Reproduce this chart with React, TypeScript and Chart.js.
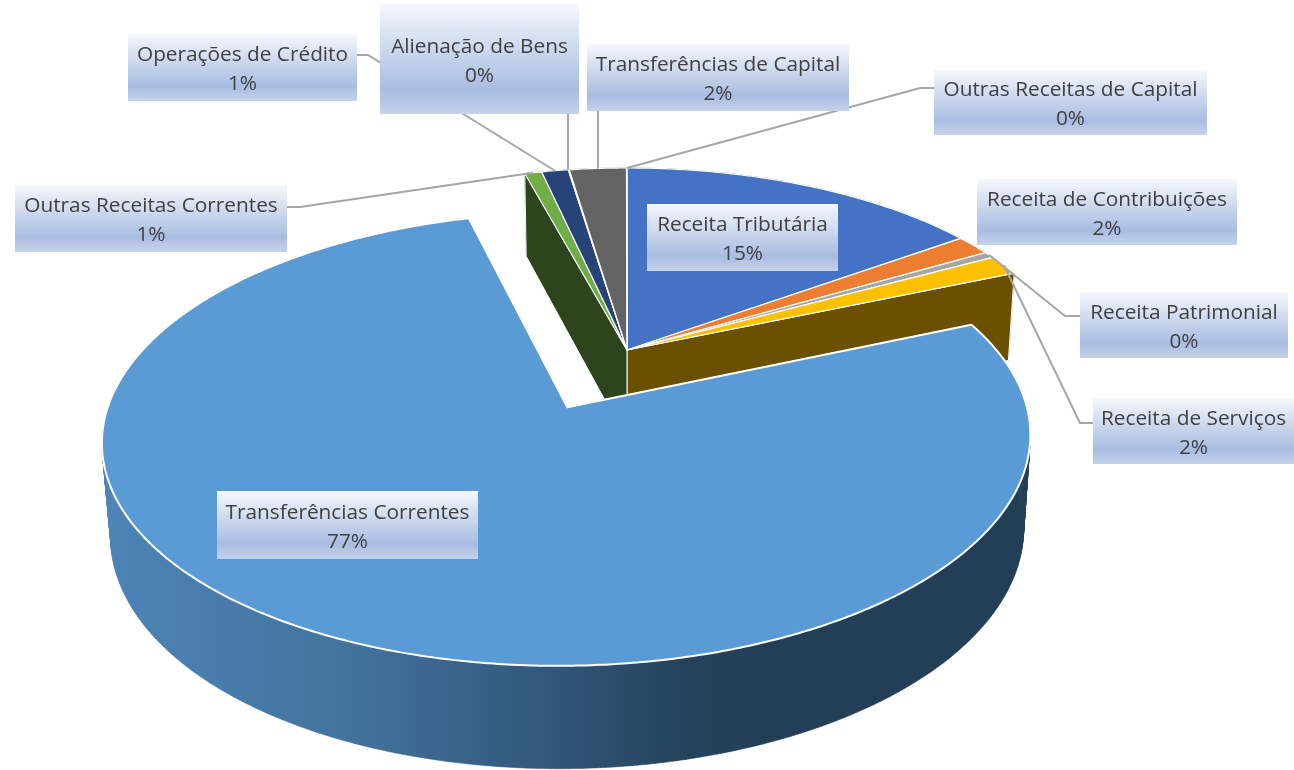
import React, { useEffect, useRef } from "react";
import { Chart, registerables } from "chart.js";

Chart.register(...registerables);

const categories = [
  "Receita Tributária",
  "Receita de Contribuições",
  "Receita Patrimonial",
  "Receita de Serviços",
  "Transferências Correntes",
  "Outras Receitas Correntes",
  "Operações de Crédito",
  "Alienação de Bens",
  "Transferências de Capital",
  "Outras Receitas de Capital",
];
const shares = [15.1, 1.51, 0.48, 1.51, 77.2, 0.7, 1.1, 0.04, 2.34, 0.02];
const explode = [0, 0, 0, 0, 0.297, 0, 0, 0, 0, 0];
const topColors = ["#4472C4", "#ED7D31", "#A5A5A5", "#FFC000", "#5B9BD5", "#70AD47", "#264478", "#9E480E", "#636363", "#997300"];
const sideColors = ["#1f3560", "#6d3610", "#4c4c4c", "#6b5000", "#233f57", "#2d451c", "#111f38", "#491f06", "#2e2e2e", "#463500"];
const edgeWidths = [1.2, 1.2, 1.2, 1.2, 2, 1.2, 1.2, 1.2, 1.2, 1.2];

// label boxes: x0, y0, x1, y1
const labelBoxes = [
  [647, 204, 838, 271],
  [977, 179, 1237, 245],
  [1080, 292, 1288, 358],
  [1093, 398, 1294, 464],
  [217, 491, 478, 559],
  [15, 185, 287, 252],
  [128, 34, 357, 101],
  [380, 4, 579, 114],
  [587, 44, 849, 111],
  [934, 70, 1207, 135],
];
// leader lines: box anchor, elbow (screen); the far end is computed on the slice's rim
const leaders: (number[][] | null)[] = [
  null,
  null,
  [[1080, 316], [1065, 316]],
  [[1093, 423], [1080, 423]],
  null,
  [[287, 207], [300, 207]],
  [[357, 55], [368, 55]],
  [[568, 114]],
  [[598, 111]],
  [[934, 88], [920, 88]],
];

const VIEW = { x0: 627, y0: 350, a: 443, b: 206.6, c: 92, p: 0.135, q: 0.016 };
const project = (u: number, v: number, h: number) => {
  const w = 1 - VIEW.p * v + VIEW.q * h;
  return [VIEW.x0 + (VIEW.a * u) / w, VIEW.y0 + (VIEW.b * v + VIEW.c * h) / w];
};

const pie3d = {
  id: "pie3d",
  beforeDatasetsDraw(chart: any) {
    const ctx: CanvasRenderingContext2D = chart.ctx;
    const arcs = chart.getDatasetMeta(0).data as any[];
    const geo = arcs.map((el, i) => {
      const { startAngle, endAngle } = el.getProps(["startAngle", "endAngle"], true);
      const mid = (startAngle + endAngle) / 2;
      return {
        i,
        start: startAngle,
        end: endAngle,
        mid,
        ox: explode[i] * Math.cos(mid),
        oy: explode[i] * Math.sin(mid),
      };
    });
    const rim = (g: any, h: number) => {
      const n = Math.max(2, Math.ceil((g.end - g.start) / (Math.PI / 360)));
      const pts: number[][] = [];
      for (let k = 0; k <= n; k++) {
        const a = g.start + ((g.end - g.start) * k) / n;
        pts.push(project(g.ox + Math.cos(a), g.oy + Math.sin(a), h));
      }
      return pts;
    };
    const poly = (pts: number[][], fill: any, stroke: string | null, lw = 1) => {
      ctx.beginPath();
      pts.forEach((p, k) => (k ? ctx.lineTo(p[0], p[1]) : ctx.moveTo(p[0], p[1])));
      ctx.closePath();
      ctx.fillStyle = fill;
      ctx.fill();
      if (stroke) {
        ctx.strokeStyle = stroke;
        ctx.lineWidth = lw;
        ctx.lineJoin = "round";
        ctx.stroke();
      }
    };
    const face = (g: any, a: number, fill: any) => {
      const e = [g.ox + Math.cos(a), g.oy + Math.sin(a)];
      poly(
        [project(g.ox, g.oy, 0), project(e[0], e[1], 0), project(e[0], e[1], 1), project(g.ox, g.oy, 1)],
        fill,
        "#ffffff",
        1
      );
    };
    const wallGradient = () => {
      const gr = ctx.createLinearGradient(102, 0, 1031, 0);
      gr.addColorStop(0, "#4d84b6");
      gr.addColorStop(0.26, "#43739e");
      gr.addColorStop(0.48, "#32577a");
      gr.addColorStop(0.62, "#26435c");
      gr.addColorStop(0.72, "#233f57");
      gr.addColorStop(1, "#233f57");
      return gr;
    };
    const drawWall = (g: any, fill: any) => {
      const top = rim(g, 0);
      const bottom = rim(g, 1);
      ctx.beginPath();
      for (let k = 0; k < top.length - 1; k++) {
        ctx.moveTo(top[k][0], top[k][1]);
        ctx.lineTo(top[k + 1][0], top[k + 1][1]);
        ctx.lineTo(bottom[k + 1][0], bottom[k + 1][1]);
        ctx.lineTo(bottom[k][0], bottom[k][1]);
        ctx.closePath();
      }
      ctx.fillStyle = fill;
      ctx.strokeStyle = fill;
      ctx.lineWidth = 0.5;
      ctx.fill("nonzero");
      ctx.stroke();
    };
    const drawGroup = (group: any[]) => {
      group.forEach((g) => {
        drawWall(g, explode[g.i] > 0 ? wallGradient() : sideColors[g.i]);
      });
      group.forEach((g) => {
        const prev = geo[(g.i + geo.length - 1) % geo.length];
        const next = geo[(g.i + 1) % geo.length];
        if (explode[prev.i] !== explode[g.i]) face(g, g.start, sideColors[g.i]);
        if (explode[next.i] !== explode[g.i]) face(g, g.end, sideColors[g.i]);
      });
      group.forEach((g) => {
        const o = arcs[g.i].options;
        poly([project(g.ox, g.oy, 0), ...rim(g, 0)], o.backgroundColor, o.borderColor, o.borderWidth);
      });
    };
    drawGroup(geo.filter((g) => explode[g.i] === 0));
    drawGroup(geo.filter((g) => explode[g.i] > 0));

    // leader lines
    ctx.strokeStyle = "#a6a6a6";
    ctx.lineWidth = 2;
    ctx.lineJoin = "miter";
    leaders.forEach((path, i) => {
      if (!path) return;
      const g = geo[i];
      const end = project(g.ox + Math.cos(g.mid), g.oy + Math.sin(g.mid), 0);
      ctx.beginPath();
      path.forEach((p, k) => (k ? ctx.lineTo(p[0], p[1]) : ctx.moveTo(p[0], p[1])));
      ctx.lineTo(path.length === 1 ? path[0][0] : end[0], end[1]);
      ctx.stroke();
    });

    // labels
    const total = shares.reduce((s, v) => s + v, 0);
    ctx.font = '20.8px "Open Sans"';
    ctx.textAlign = "center";
    ctx.textBaseline = "middle";
    labelBoxes.forEach(([x0, y0, x1, y1], i) => {
      const gr = ctx.createLinearGradient(0, y0, 0, y1);
      gr.addColorStop(0, "#f6f8fd");
      gr.addColorStop(0.5, "#c3d1ea");
      gr.addColorStop(0.78, "#a9bde2");
      gr.addColorStop(1, "#c5d2ea");
      ctx.fillStyle = gr;
      ctx.fillRect(x0, y0, x1 - x0, y1 - y0);
      const cx = (x0 + x1) / 2;
      const cy = (y0 + y1) / 2;
      ctx.fillStyle = "#404040";
      ctx.fillText(categories[i], cx, cy - 12);
      ctx.fillText(Math.round((shares[i] / total) * 100) + "%", cx, cy + 17);
    });
    return false;
  },
};

export default function App() {
  const ref = useRef<HTMLCanvasElement>(null);
  useEffect(() => {
    const chart = new Chart(ref.current!, {
      type: "pie",
      data: {
        labels: categories,
        datasets: [
          {
            data: shares,
            backgroundColor: topColors,
            borderColor: "#ffffff",
            borderWidth: edgeWidths,
          },
        ],
      },
      options: {
        responsive: false,
        animation: false,
        events: [],
        plugins: { legend: { display: false }, tooltip: { enabled: false } },
      },
      plugins: [pie3d],
    } as any);
    return () => chart.destroy();
  }, []);
  return (
    <canvas
      ref={ref}
      width={1294}
      height={770}
      style={{ position: "absolute", left: 0, top: 0, display: "block", width: 1294, height: 770 }}
    />
  );
}
